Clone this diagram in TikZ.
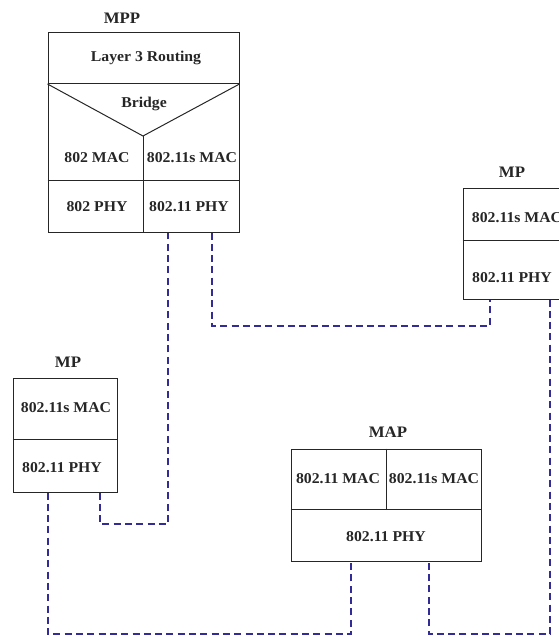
\documentclass[tikz,border=0pt]{standalone}
\usepackage{fontspec}
\setmainfont[FakeStretch=1.05]{Liberation Serif}
\definecolor{linkblue}{RGB}{52,44,150}
\begin{document}
\begin{tikzpicture}[x=1pt,y=-1pt,
  box/.style={draw=black!85,line width=1pt,rectangle,inner sep=0pt},
  lbl/.style={font=\fontsize{15}{17}\selectfont\bfseries,inner sep=0pt,text=black!85},
  ttl/.style={font=\fontsize{16}{18}\selectfont\bfseries,inner sep=0pt,text=black!85},
  link/.style={draw=linkblue,line width=1.1pt,dash pattern=on 7pt off 4.3pt}]
\useasboundingbox (0,0) rectangle (558,639);
% MPP
\node[box,minimum width=191pt,minimum height=199pt] (mpp) at (143.5,132.5) {};
\node[ttl] (tmpp) at (122,18) {MPP};
\draw[draw=black!85,line width=1pt] (mpp.west |- 0,84) coordinate (l3w) -- (mpp.east |- 0,84) coordinate (l3e);
\coordinate (apex) at (143,136);
\draw[draw=black!85,line width=1pt] (l3w) -- (apex) -- (l3e);
\draw[draw=black!85,line width=1pt] (apex) -- (apex |- mpp.south);
\draw[draw=black!85,line width=1pt] (mpp.west |- 0,180) -- (mpp.east |- 0,180);
\node[lbl] (l3) at (146,58) {Layer 3 Routing};
\node[lbl] (br) at (144,104) {Bridge};
\node[lbl] (mac1) at (97,158) {802 MAC};
\node[lbl] (mac2) at (192,158) {802.11s MAC};
\node[lbl] (phy1) at (97,207) {802 PHY};
\node[lbl] (phy2) at (189,207) {802.11 PHY};
% left MP
\node[box,minimum width=104pt,minimum height=114pt] (mpl) at (65,435) {};
\node[ttl] (tmpl) at (68,362) {MP};
\draw[draw=black!85,line width=1pt] (mpl.west |- 0,439) -- (mpl.east |- 0,439);
\node[lbl] (mpl1) at (66,408) {802.11s MAC};
\node[lbl] (mpl2) at (62,468) {802.11 PHY};
% right MP
\node[box,minimum width=103pt,minimum height=111pt] (mpr) at (514.5,243.5) {};
\node[ttl] (tmpr) at (512,172) {MP};
\draw[draw=black!85,line width=1pt] (mpr.west |- 0,240) -- (mpr.east |- 0,240);
\node[lbl] (mpr1) at (517,218) {802.11s MAC};
\node[lbl] (mpr2) at (512,278) {802.11 PHY};
% MAP
\node[box,minimum width=190pt,minimum height=112pt] (map) at (386,505) {};
\node[ttl] (tmap) at (388,432) {MAP};
\draw[draw=black!85,line width=1pt] (map.west |- 0,509) -- (map.east |- 0,509);
\draw[draw=black!85,line width=1pt] (386,0 |- map.north) -- (386,509);
\node[lbl] (map1) at (338,479) {802.11 MAC};
\node[lbl] (map2) at (434,479) {802.11s MAC};
\node[lbl] (map3) at (386,537) {802.11 PHY};
% links
\draw[link] (mpl.south -| 100,0) |- (168,524) -- (mpp.south -| 168,0);
\draw[link] (mpp.south -| 212,0) |- (490,326) -- (mpr.south -| 490,0);
\draw[link] (mpl.south -| 48,0) |- (351,634) -- (map.south -| 351,0);
\draw[link] (mpr.south -| 550,0) |- (429,634) -- (map.south -| 429,0);
\end{tikzpicture}
\end{document}
